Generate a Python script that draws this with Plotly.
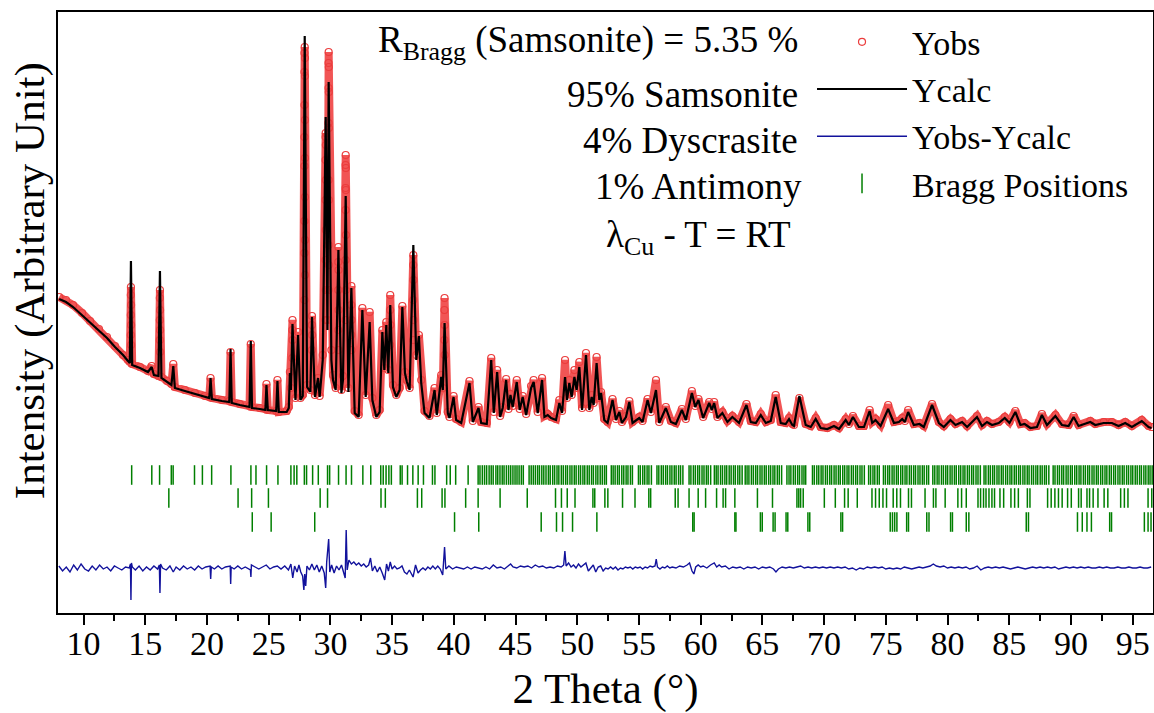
import plotly.graph_objects as go

# ---------------- data ----------------
two_theta = [8.02, 8.58, 9.15, 9.88, 10.53, 11.25, 11.90, 12.55, 13.20, 13.60, 13.75, 13.84, 13.94,
             14.57, 15.22, 15.52, 15.70, 16.07, 16.19, 16.31, 16.76, 17.12, 17.27, 17.40, 18.21, 19.02,
             19.83, 20.19, 20.29, 20.40, 21.21, 21.81, 21.91, 22.01, 22.66, 23.45, 23.55, 23.65, 24.28,
             24.73, 24.82, 24.93, 25.61, 25.71, 25.82, 26.46, 26.63, 26.72, 26.80, 26.93, 27.17, 27.38,
             27.57, 27.76, 27.92, 28.11, 28.38, 28.51, 28.75, 29.00, 29.13, 29.38, 29.62, 29.76, 29.86,
             30.08, 30.21, 30.43, 30.65, 30.89, 31.02, 31.24, 31.46, 31.70, 31.97, 32.29, 32.59, 32.86,
             33.18, 33.40, 33.72, 33.99, 34.21, 34.37, 34.53, 34.69, 34.85, 35.07, 35.34, 35.61, 35.83,
             36.04, 36.20, 36.42, 36.72, 36.96, 37.17, 37.36, 37.63, 38.03, 38.44, 38.62, 38.98, 39.11,
             39.25, 39.51, 39.65, 39.98, 40.19, 40.60, 41.27, 41.54, 42.00, 42.22, 42.67, 43.03, 43.24,
             43.51, 43.75, 43.96, 44.24, 44.43, 44.59, 44.77, 45.10, 45.34, 45.58, 45.86, 46.26, 46.47,
             46.80, 47.15, 47.34, 47.61, 47.88, 48.28, 48.55, 48.77, 49.01, 49.17, 49.36, 49.55, 49.77,
             49.95, 50.17, 50.39, 50.71, 50.98, 51.17, 51.33, 51.57, 51.79, 51.93, 52.19, 52.46, 52.86,
             53.14, 53.41, 53.62, 53.95, 54.22, 54.48, 55.02, 55.29, 55.70, 55.97, 56.38, 56.64, 57.18,
             57.59, 57.99, 58.48, 58.80, 59.29, 59.56, 59.82, 60.20, 60.69, 60.91, 61.09, 61.36, 61.76,
             62.17, 62.57, 63.11, 63.71, 64.06, 64.47, 64.87, 65.28, 65.68, 66.08, 66.49, 66.89, 67.16,
             67.43, 67.56, 68.00, 68.51, 68.92, 69.32, 69.73, 70.26, 70.80, 71.21, 71.75, 72.01, 72.34,
             72.82, 73.23, 73.69, 73.90, 74.17, 74.58, 75.19, 75.66, 76.06, 76.33, 76.55, 76.81, 77.27,
             77.73, 78.08, 78.75, 79.30, 79.70, 80.24, 80.65, 81.18, 81.59, 82.39, 82.80, 83.20, 83.61,
             84.15, 84.64, 85.02, 85.50, 85.91, 86.25, 86.72, 87.25, 87.65, 88.06, 88.74, 89.27, 89.81,
             90.22, 90.62, 91.57, 91.97, 92.65, 93.32, 93.86, 94.40, 94.94, 95.74, 96.29, 96.53]

y_calc = [321, 318, 313, 305, 298, 290, 282, 273, 265, 259, 257, 359, 255,
          252, 248, 253, 245, 244, 349, 242, 238, 235, 254, 232, 229, 226,
          223, 222, 242, 221, 219, 218, 271, 217, 215, 213, 279, 212, 211,
          210, 235, 210, 209, 239, 208, 208, 212, 247, 230, 296, 220, 285,
          220, 224, 584, 233, 228, 303, 223, 242, 223, 260, 503, 290, 538,
          260, 240, 230, 370, 227, 240, 424, 228, 332, 207, 203, 310, 223,
          298, 220, 203, 208, 288, 250, 295, 247, 315, 233, 223, 230, 313,
          247, 238, 230, 375, 260, 284, 237, 207, 202, 230, 205, 243, 230,
          297, 207, 202, 223, 200, 197, 237, 198, 212, 197, 196, 260, 207,
          248, 203, 212, 240, 210, 225, 213, 238, 210, 223, 205, 232, 238,
          207, 240, 203, 205, 202, 200, 217, 207, 243, 220, 237, 223, 243,
          230, 253, 210, 265, 210, 223, 215, 257, 220, 227, 200, 197, 220,
          200, 208, 197, 203, 218, 197, 202, 198, 220, 207, 230, 197, 212,
          198, 196, 210, 200, 227, 213, 220, 202, 217, 210, 217, 202, 207,
          198, 203, 197, 215, 198, 197, 205, 197, 199, 223, 197, 196, 201,
          195, 194, 224, 195, 193, 201, 192, 191, 194, 191, 200, 195, 203,
          193, 193, 209, 197, 200, 194, 211, 197, 198, 201, 198, 208, 195,
          196, 193, 215, 197, 193, 200, 195, 198, 193, 203, 194, 198, 195,
          197, 202, 197, 208, 195, 196, 192, 193, 205, 195, 204, 195, 194,
          203, 194, 198, 195, 197, 197, 194, 197, 193, 199, 193, 192]

y_obs = [323, 320, 315, 307, 299, 291, 283, 274, 265, 260, 258, 333, 256,
         253, 249, 254, 246, 244, 330, 243, 239, 236, 256, 233, 230, 227,
         224, 223, 242, 222, 220, 219, 268, 218, 216, 214, 276, 213, 212,
         211, 236, 210, 209, 240, 208, 209, 213, 248, 232, 300, 222, 288,
         222, 225, 573, 235, 230, 304, 225, 242, 224, 265, 487, 300, 568,
         270, 245, 232, 373, 230, 244, 465, 232, 334, 209, 205, 312, 225,
         308, 222, 205, 210, 290, 252, 298, 250, 325, 235, 225, 232, 314,
         248, 240, 232, 365, 265, 285, 240, 209, 204, 232, 207, 245, 232,
         322, 208, 203, 224, 201, 198, 239, 199, 213, 198, 197, 262, 208,
         250, 204, 213, 241, 211, 226, 214, 240, 211, 224, 206, 234, 240,
         208, 242, 204, 206, 203, 201, 220, 209, 260, 222, 240, 225, 250,
         232, 258, 212, 267, 212, 225, 217, 263, 222, 228, 201, 198, 221,
         201, 209, 198, 204, 219, 198, 203, 199, 221, 208, 240, 198, 213,
         199, 197, 211, 201, 229, 214, 221, 203, 218, 211, 218, 203, 208,
         199, 204, 198, 216, 199, 198, 206, 198, 200, 225, 198, 197, 202,
         196, 195, 222, 196, 194, 202, 193, 192, 195, 192, 201, 196, 204,
         194, 194, 210, 198, 201, 195, 215, 198, 199, 202, 199, 210, 196,
         197, 194, 216, 198, 194, 201, 196, 199, 194, 204, 195, 199, 196,
         198, 203, 198, 209, 196, 197, 193, 194, 206, 196, 205, 196, 195,
         204, 195, 199, 196, 198, 198, 195, 198, 194, 200, 194, 193]

# extra observed points on the flanks of the strong reflections
flank_theta = [13.83, 13.85, 13.83, 13.85, 13.83, 13.85,
               16.18, 16.20, 16.18, 16.20, 16.18, 16.20,
               26.92, 26.94, 26.92,
               27.90, 27.94, 27.90, 27.94, 27.90, 27.94, 27.90, 27.94, 27.90, 27.94, 27.90, 27.94, 27.90,
               27.94, 27.90,
               28.50, 28.52, 28.50,
               29.61, 29.63, 29.61, 29.63, 29.61, 29.63, 29.61, 29.63, 29.61,
               29.85, 29.87, 29.85, 29.87, 29.85, 29.87, 29.85, 29.87, 29.85, 29.87, 29.85,
               30.64, 30.66, 30.64, 30.66, 30.64, 30.66,
               31.23, 31.25, 31.23, 31.25, 31.23, 31.25, 31.23, 31.25, 31.23,
               31.69, 31.71, 31.69, 31.71,
               34.84, 34.86, 34.84,
               36.71, 36.73, 36.71, 36.73, 36.71,
               39.24, 39.26, 39.24, 39.26]
flank_obs = [325, 315, 305, 295, 285, 275,
             322, 310, 300, 290, 280, 268,
             290, 280, 262,
             567, 562, 548, 544, 515, 500, 483, 462, 454, 423, 399, 380, 367,
             345, 320,
             295, 285, 270,
             483, 475, 460, 440, 420, 390, 360, 330, 300,
             557, 553, 532, 528, 497, 492, 440, 420, 375, 355, 330,
             358, 350, 330, 310, 290, 270,
             455, 452, 432, 430, 410, 385, 360, 330, 300,
             315, 300, 285, 270,
             310, 295, 275,
             355, 340, 320, 300, 280,
             310, 295, 280, 265]

diff_theta = [8.0, 8.3, 8.6, 8.9, 9.2, 9.5, 9.8, 10.1, 10.4, 10.7, 11.0, 11.3, 11.6, 11.9, 12.2, 12.5,
              12.8, 13.1, 13.4, 13.7, 13.80, 13.84, 13.88, 13.95, 14.2, 14.5, 14.8, 15.1, 15.4, 15.7,
              16.0, 16.14, 16.19, 16.24, 16.4, 16.7, 17.0, 17.27, 17.5, 17.8, 18.1, 18.4, 18.7, 19.0,
              19.3, 19.6, 19.9, 20.25, 20.30, 20.35, 20.6, 20.9, 21.2, 21.5, 21.88, 21.92, 21.96, 22.2,
              22.5, 22.8, 23.1, 23.4, 23.52, 23.56, 23.6, 23.9, 24.2, 24.5, 24.8, 25.1, 25.4, 25.7,
              26.0, 26.3, 26.6, 26.8, 26.95, 27.1, 27.3, 27.45, 27.6, 27.75, 27.85, 27.92, 28.0, 28.1,
              28.3, 28.5, 28.7, 28.9, 29.1, 29.3, 29.5, 29.62, 29.7, 29.86, 29.95, 30.1, 30.3, 30.5,
              30.7, 30.9, 31.1, 31.2, 31.28, 31.36, 31.5, 31.7, 31.9, 32.1, 32.3, 32.5, 32.7, 32.9,
              33.1, 33.25, 33.4, 33.6, 33.8, 34.0, 34.2, 34.4, 34.55, 34.7, 34.85, 35.0, 35.2, 35.4,
              35.6, 35.8, 36.0, 36.2, 36.4, 36.7, 36.9, 37.1, 37.3, 37.5, 37.7, 37.9, 38.1, 38.3,
              38.5, 38.7, 38.9, 39.1, 39.25, 39.35, 39.6, 39.9, 40.2, 40.5, 40.8, 41.1, 41.4, 41.7,
              42.0, 42.3, 42.6, 42.9, 43.2, 43.5, 43.8, 44.1, 44.4, 44.6, 44.8, 45.1, 45.4, 45.7,
              46.0, 46.3, 46.6, 46.9, 47.2, 47.5, 47.8, 48.1, 48.4, 48.7, 48.9, 49.0, 49.1, 49.3,
              49.5, 49.7, 49.9, 50.1, 50.3, 50.5, 50.7, 50.9, 51.1, 51.3, 51.5, 51.7, 51.9, 52.1,
              52.3, 52.5, 52.7, 52.9, 53.1, 53.3, 53.5, 53.7, 53.9, 54.1, 54.3, 54.5, 54.7, 54.9,
              55.1, 55.3, 55.5, 55.7, 55.9, 56.1, 56.3, 56.4, 56.5, 56.7, 56.9, 57.1, 57.3, 57.5,
              57.7, 58.0, 58.3, 58.6, 58.9, 59.1, 59.3, 59.45, 59.6, 59.8, 60.0, 60.2, 60.5, 60.8,
              61.1, 61.3, 61.5, 61.7, 62.0, 62.3, 62.6, 62.9, 63.2, 63.5, 63.8, 64.1, 64.4, 64.7,
              65.0, 65.3, 65.6, 65.9, 66.1, 66.3, 66.6, 66.9, 67.2, 67.5, 67.8, 68.1, 68.4, 68.7,
              69.0, 69.3, 69.6, 69.9, 70.2, 70.5, 70.8, 71.1, 71.4, 71.7, 72.0, 72.3, 72.6, 72.9,
              73.2, 73.5, 73.8, 74.1, 74.4, 74.7, 75.0, 75.3, 75.6, 75.9, 76.2, 76.5, 76.8, 77.1,
              77.4, 77.7, 78.0, 78.3, 78.6, 78.85, 79.1, 79.4, 79.7, 80.0, 80.3, 80.6, 80.9, 81.2,
              81.5, 81.8, 82.1, 82.4, 82.7, 83.0, 83.3, 83.6, 83.9, 84.2, 84.5, 84.8, 85.1, 85.4,
              85.7, 86.0, 86.3, 86.6, 86.9, 87.2, 87.5, 87.8, 88.1, 88.4, 88.7, 89.0, 89.3, 89.6,
              89.9, 90.2, 90.5, 90.8, 91.1, 91.4, 91.7, 92.0, 92.3, 92.6, 92.9, 93.2, 93.5, 93.8,
              94.1, 94.4, 94.7, 95.0, 95.3, 95.6, 95.9, 96.2, 96.5]

y_diff = [2, -3, 1, -4, 3, -2, 4, -1, -3, 2, -2, 3, -1, 1, -3, 2,
          0, -2, 1, 0, 4, -32, 5, 1, -2, 2, -3, 1, -2, 2,
          -1, 3, -25, 4, 0, -2, 2, -4, 1, -2, 2, -1, 1, -2,
          2, -1, 1, 2, -11, 1, -1, 2, -1, 1, 2, -16, 1, -1,
          2, -1, 1, -1, -2, -9, 3, 1, -1, 1, 3, -1, 1, 2,
          -1, 2, -2, 4, -10, 2, -4, 3, -4, -8, -22, -6, -18, 2,
          -2, 4, -2, 3, -4, 2, -5, -20, 6, 29, -4, 3, -5, 2,
          -2, 3, -7, -10, 38, -2, 8, 4, 6, 3, 5, 2, 4, 1,
          3, 10, -3, 2, -4, 1, -5, -12, 4, -3, 6, -1, 2, -1,
          0, 2, -4, -6, -2, -9, 3, -5, -2, 0, -2, 1, -1, 2,
          -1, 2, -1, -7, 21, -1, 2, -1, 1, 0, -1, 1, -1, 1,
          0, -1, 1, -1, 3, 0, 1, -1, 2, 4, 1, 0, 2, 1,
          2, 0, 3, 1, 2, 0, 1, 0, 2, 1, 3, 17, 2, 5,
          1, 3, 0, 4, 1, 3, 5, -3, 0, 3, -4, 1, 2, -3,
          0, -1, 1, -1, 1, -2, 0, -1, 1, 0, 1, -1, 1, 0,
          1, -1, 1, 0, 2, 1, 2, 9, 1, -1, 1, 0, 2, 0,
          1, 0, 2, 1, 3, 5, -3, -6, 1, 3, 1, 2, 0, 3,
          5, 1, 3, 1, 2, -1, 1, 0, 1, -1, 1, 0, 1, -1,
          1, 0, 1, -1, -4, -1, 1, 0, 1, 0, 1, 2, 0, 1,
          0, 1, 0, 1, 0, 1, 0, 1, 0, 1, -1, 0, -2, 0,
          -1, 1, 0, 1, 0, 1, -1, 0, -1, 0, -1, 1, 0, -1,
          0, 1, 0, 1, 2, 4, 2, 1, 2, 0, 1, 0, 1, 0,
          1, -1, 0, 2, -2, 0, 1, 0, 1, 0, 1, 0, -1, 0,
          1, 0, -1, 0, 1, 0, 1, 0, 1, 0, 1, -1, 0, 1,
          0, 1, 0, 1, 0, 1, 0, 0, 1, 0, 1, 0, 0, 1,
          0, 0, 1, 0, 0, 1, 0, 0, 1]

DIFF_OFFSET = 52

bragg_samsonite = [
    13.90, 15.53, 16.16, 17.11, 17.26, 18.99, 19.63, 20.38, 21.94, 23.56, 23.97, 24.83, 25.75,
    26.80, 27.06, 27.28, 27.89, 28.07, 28.56, 29.02, 29.77, 29.94, 30.66, 31.27, 31.71, 32.63,
    33.27, 34.08, 34.28, 34.51, 34.74, 34.94, 35.66, 35.81, 36.25, 36.68, 37.11, 37.54, 38.27,
    38.47, 39.42, 39.71, 40.15, 41.16,
    41.97, 42.12, 42.31, 42.49, 42.66, 42.86, 43.03, 43.19, 43.41, 43.56, 43.74, 43.92, 44.07,
    44.26, 44.44, 44.61, 44.79, 44.96, 45.12, 45.29, 45.47, 45.63,
    46.10, 46.27, 46.44, 46.61, 46.79, 46.94, 47.13, 47.29, 47.47, 47.66, 47.81, 48.01, 48.17,
    48.36, 48.51, 48.71, 48.87, 49.06, 49.21, 49.41, 49.57, 49.76, 49.91, 50.11, 50.27, 50.46,
    50.61, 50.81, 50.97, 51.16, 51.31, 51.51, 51.67, 51.86, 52.03, 52.21, 52.36,
    52.76, 52.91, 53.07, 53.26, 53.41, 53.61, 53.77, 53.96, 54.11, 54.31, 54.47,
    54.96, 55.11, 55.31, 55.47, 55.66, 55.81, 56.01,
    56.46, 56.61, 56.81, 56.97, 57.16, 57.31, 57.51, 57.67, 57.86, 58.01, 58.21, 58.37, 58.56,
    59.06, 59.21, 59.41, 59.57, 59.76, 59.91, 60.11, 60.27, 60.46, 60.61, 60.81,
    61.11, 61.26, 61.41, 61.61, 61.77, 61.96, 62.11, 62.31, 62.47, 62.66, 62.81, 63.01, 63.17, 63.36,
    63.61, 63.76, 63.91, 64.11, 64.27, 64.46, 64.61, 64.81, 64.97, 65.16, 65.31, 65.51, 65.67,
    65.86, 66.01, 66.21, 66.37, 66.56,
    66.99, 67.16, 67.31, 67.51, 67.67, 67.86, 68.01, 68.21, 68.37, 68.51,
    69.06, 69.21, 69.41, 69.57, 69.76, 69.91, 70.11, 70.27, 70.46, 70.61, 70.81, 70.97, 71.16,
    71.31, 71.51, 71.67, 71.86, 72.01, 72.21, 72.37, 72.56, 72.71, 72.91, 73.07, 73.26,
    73.61, 73.77, 73.96, 74.11, 74.31, 74.47,
    74.81, 74.97, 75.16, 75.31, 75.51, 75.67, 75.86, 76.01, 76.21, 76.37, 76.56, 76.71, 76.91,
    77.07, 77.26, 77.41, 77.61, 77.77, 77.96, 78.11, 78.31, 78.47,
    78.81, 78.97, 79.16, 79.31, 79.51, 79.67, 79.86, 80.01, 80.21, 80.37, 80.56, 80.71, 80.91,
    81.07, 81.26, 81.41, 81.61, 81.77, 81.96, 82.11, 82.31, 82.47, 82.66,
    82.96, 83.11, 83.31, 83.47, 83.66, 83.81, 84.01, 84.17, 84.36, 84.51, 84.71, 84.87, 85.06,
    85.21, 85.41, 85.57, 85.76, 85.91, 86.11, 86.27, 86.46, 86.61, 86.81, 86.97, 87.16, 87.31,
    87.51, 87.67, 87.86, 88.01, 88.21,
    88.56, 88.71, 88.91, 89.07, 89.26, 89.41, 89.61, 89.77, 89.96, 90.11, 90.31, 90.47, 90.66,
    90.81, 91.01, 91.17, 91.36, 91.51, 91.71, 91.87, 92.06, 92.21, 92.41, 92.57, 92.76, 92.91,
    93.11, 93.27, 93.46, 93.61, 93.81, 93.97, 94.16, 94.31, 94.51, 94.67, 94.86, 95.01, 95.21,
    95.37, 95.56, 95.71, 95.91, 96.07, 96.26, 96.41, 96.58]

bragg_dyscrasite = [
    16.91, 22.52, 23.62, 24.98, 29.17, 29.77, 34.10, 34.45, 37.05, 37.40, 39.05, 39.28, 40.96,
    41.97, 43.75, 45.95, 48.24, 48.72, 49.19, 49.82, 51.27, 51.42, 52.24, 52.48, 53.67, 54.68,
    55.80, 55.95, 57.94, 58.17, 59.06, 59.80, 60.40, 61.29, 61.82, 62.02, 62.77, 64.60, 65.82,
    67.80, 67.95, 68.10, 68.31, 70.02, 70.91, 71.66, 71.95, 72.69, 73.88, 74.17, 74.47, 74.77,
    75.06, 75.60, 75.89, 76.19, 76.84, 77.08, 78.18, 78.86, 79.06, 79.81, 80.84, 81.14, 81.52,
    82.47, 82.68, 82.92, 83.12, 83.36, 83.60, 83.81, 84.25, 84.55, 85.14, 85.44, 85.74, 86.47,
    86.68, 88.11, 88.40, 88.70, 88.99, 89.29, 89.73, 90.03, 90.62, 90.83, 91.30, 91.51, 91.80,
    92.19, 92.69, 92.99, 94.03, 94.33, 94.62, 96.25, 96.55]

bragg_antimony = [
    23.67, 25.20, 28.73, 40.06, 42.02, 47.08, 48.32, 48.81, 49.62, 51.59, 59.36, 59.47, 62.77,
    62.86, 64.84, 64.99, 65.87, 66.03, 66.92, 67.06, 68.69, 68.84, 71.36, 71.50, 75.36, 75.54,
    75.72, 75.90, 76.69, 76.84, 78.32, 78.50, 80.25, 80.40, 81.52, 81.73, 86.38, 86.56, 90.53,
    90.92, 91.30, 91.66, 93.14, 93.29, 95.95, 96.25, 96.49]

bragg_levels = [145, 122, 98]

annotation_lines = ["R<sub>Bragg</sub> (Samsonite) = 5.35 %", "95% Samsonite", "4% Dyscrasite",
                    "1% Antimony", "λ<sub>Cu</sub> - T = RT"]
x_title = "2 Theta (°)"
y_title = "Intensity (Arbitrary Unit)"

# ---------------- figure ----------------
FONT = "Liberation Serif, Times New Roman, Tinos, Times, DejaVu Serif, serif"
RED = "#eb3d3d"
fig = go.Figure()

# observed data: dense band along the measured profile + open circles
fig.add_trace(go.Scatter(x=two_theta, y=y_obs, mode="lines",
                         line=dict(color="rgba(240,66,66,0.9)", width=8),
                         showlegend=False, hoverinfo="skip"))
obs_pairs = sorted(zip(two_theta + flank_theta, y_obs + flank_obs))
fig.add_trace(go.Scatter(x=[p[0] for p in obs_pairs], y=[p[1] for p in obs_pairs], mode="markers",
                         name="Yobs",
                         marker=dict(symbol="circle-open", size=7, color=RED,
                                     line=dict(width=1.2, color=RED))))
fig.add_trace(go.Scatter(x=two_theta, y=y_calc, mode="lines", name="Ycalc",
                         line=dict(color="black", width=2.2)))
fig.add_trace(go.Scatter(x=diff_theta, y=[d + DIFF_OFFSET for d in y_diff], mode="lines",
                         name="Yobs-Ycalc", line=dict(color="#12129c", width=1.4)))

for i, (pos, lvl) in enumerate(zip([bragg_samsonite, bragg_dyscrasite, bragg_antimony], bragg_levels)):
    fig.add_trace(go.Scatter(x=pos, y=[lvl] * len(pos), mode="markers", name="Bragg Positions",
                             legendgroup="bragg", showlegend=(i == 0),
                             marker=dict(symbol="line-ns", size=14,
                                         line=dict(color="#007f00", width=1.5))))

ann_y = [0.950, 0.862, 0.787, 0.709, 0.624]
ann_x = [0.678, 0.678, 0.678, 0.681, 0.671]
for txt, xx, yy in zip(annotation_lines, ann_x, ann_y):
    fig.add_annotation(text=txt, xref="paper", yref="paper", x=xx, y=yy, xanchor="right",
                       yanchor="middle", showarrow=False, font=dict(family=FONT, size=37, color="black"))

# vertical axis title (placed like in the reference, slightly above the axis centre)
fig.add_annotation(text=y_title, xref="paper", yref="paper", x=-0.026, y=0.553, textangle=-90,
                   xanchor="center", yanchor="middle", showarrow=False,
                   font=dict(family=FONT, size=43, color="black"))

fig.update_layout(
    width=1154, height=713,
    margin=dict(l=58, r=1, t=12, b=100),
    paper_bgcolor="white", plot_bgcolor="white",
    font=dict(family=FONT, color="black", size=34),
    xaxis=dict(range=[7.93, 96.65], tickmode="linear", tick0=10, dtick=5,
               ticks="outside", ticklen=10, tickwidth=2, tickcolor="black",
               minor=dict(ticks="outside", ticklen=6, tickwidth=2, tickcolor="black", dtick=2.5, tick0=7.5),
               showline=True, linewidth=2, linecolor="black", mirror=True,
               showgrid=False, zeroline=False, tickfont=dict(family=FONT, size=34),
               ticklabelstandoff=-11,
               title=dict(text=x_title, font=dict(family=FONT, size=43), standoff=14),
               automargin=False),
    yaxis=dict(range=[7, 608], showticklabels=False, ticks="",
               showline=True, linewidth=2, linecolor="black", mirror=True,
               showgrid=False, zeroline=False, automargin=False),
    legend=dict(x=0.6886, y=0.998, xanchor="left", yanchor="top", bgcolor="rgba(0,0,0,0)",
                font=dict(size=34, family=FONT), itemwidth=90, tracegroupgap=0),
)

fig.write_html("out.html", config={"displayModeBar": False},
               post_script="document.body.style.margin='0px';document.body.style.overflow='hidden';")
